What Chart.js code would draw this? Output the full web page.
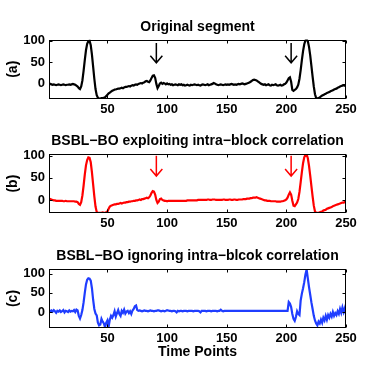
<!DOCTYPE html>
<html><head><meta charset="utf-8">
<script src="https://cdn.jsdelivr.net/npm/chart.js@4"></script>
<style>
html,body{margin:0;padding:0;background:#fff;width:382px;height:382px;overflow:hidden}
.p{position:absolute;left:0;width:382px}
</style></head><body>
<div class="p" style="top:0;height:120px"><canvas id="ca"></canvas></div>
<div class="p" style="top:120px;height:115px"><canvas id="cb"></canvas></div>
<div class="p" style="top:235px;height:147px"><canvas id="cc"></canvas></div>
<script>
const xTicks = [50, 100, 150, 200, 250];
const yTicks = [0, 50, 100];
const titles = ['Original segment', 'BSBL\u2212BO exploiting intra\u2212block correlation', 'BSBL\u2212BO ignoring intra\u2212blcok correlation'];
const panelLabels = ['(a)', '(b)', '(c)'];
const xLabel = 'Time Points';

const original = [
 1,0,-1,-2,-1,-2,-3,-2,-1,-2, -3,-2,-1,-2,-3,-2,-2,-1,-2,-1, 0,-1,-2,-4,
 -6,-10,-12,-6,8,30,55,78,93,99,100,90,68,40,12,-12,-26,-32,-34,-34,-33,-33,-32,-31,-28,-25,
 -22,-20,-18,-16,-15,-13,-13,-12,-11,-11, -10,-9,-10,-8,-7,-7,-6,-5,-6,-4,
 -3,-4,-2,-1,-2,0,1,2,1,3, 4,6,7,5,4,8,14,19,20,14, 0,-10,-5,1,3,0,2,1,-1,1,
 -1,0,-2,-1,-3,-2,-1,-2,-3,-1, -2,-1,-3,-2,-4,-3,-2,-3,-4,-2, -3,-2,-1,-2,-3,-2,-3,-4,-2,-1,
 -2,-3,-2,-1,-3,-2,-1,0,2,1, -1,-2,-3,-2,-1,-2,-3,-2,-1,-2,
 -1,-2,-1,0,-1,-2,-1,-2,-1,0, -1,0,1,0,-1,0,1,2,3,5, 7,9,10,9,8,6,4,2,0,-1,
 -2,-1,-3,-2,-1,-3,-4,-2,-3,-2, -1,-3,-4,-3,-2,-4,-3,-1,0,3,
 8,13,15,5,-14,-16,-14,-12,-8,-2, 12,32,55,76,92,101,103,99,86,66,
 42,17,-6,-24,-33,-34,-33,-31,-29,-27, -26,-24,-23,-21,-20,-19,-17,-16,-15,-13,
 -12,-11,-9,-8,-6,-5,-4,-3,-4,-5
];
const exploiting = [
 3,2,1,0,-1,-1,-2,-2,-2,-2, -2,-2,-3,-3,-2,-3,-3,-3,-3,-3, -3,-3,-4,-4,
 -5,-9,-11,-5,10,32,57,78,90,96,95,85,62,35,8,-15,-27,-29,-29,-29,-29,-28,-29,-29,-28,-26,
 -20,-15,-13,-12,-11,-10,-10,-9,-9,-8, -7,-8,-7,-6,-6,-5,-5,-4,-4,-3,
 -3,-2,-2,-1,-1,0,1,0,2,2, 3,4,5,4,6,10,16,20,19,12, 0,-7,-4,2,3,0,-1,-2,-2,-3,
 -2,-2,-2,-2,-2,-2,-2,-2,-2,-2, -2,-2,-2,-2,-2,-2,-1,-1,-1,-1, -1,-1,-1,-1,-1,0,0,0,0,0,
 0,0,0,1,1,0,0,1,1,1, 0,0,0,0,0,0,1,1,0,0,
 0,1,1,0,0,1,1,0,0,1, 1,1,1,2,2,2,3,3,3,4, 4,5,5,5,6,5,4,3,2,1,
 0,-1,-1,-2,-2,-2,-3,-3,-3,-3, -3,-4,-4,-4,-4,-3,-3,-2,-1,1,
 5,12,17,12,-2,-13,-14,-10,-6,2, 18,40,63,83,96,102,103,94,77,55,
 31,8,-13,-26,-29,-29,-29,-28,-27,-26, -24,-23,-22,-20,-19,-18,-17,-16,-14,-13,
 -12,-11,-10,-9,-8,-7,-6,-6,-5,-4
];
const ignoring = [
 3,2,4,1,5,2,-2,3,1,4, 0,2,5,-1,3,2,0,4,1,3, 2,5,0,6,
 4,-10,-17,-8,5,25,50,72,84,88,87,82,62,32,8,-4,-9,-28,-35,-33,-18,-25,-30,-40,-28,-22,
 -38,-20,-10,-15,-8,2,-12,-3,5,-5, -10,3,-2,6,-4,1,3,-3,2,-5,
 4,8,15,17,5,3,4,3,2,3, 4,3,3,2,3,4,3,3,2,3, 3,4,4,3,2,3,3,2,3,5,
 4,3,3,2,3,3,2,-1,3,2, 3,3,2,3,3,3,2,3,3,3, 3,2,3,3,3,3,2,-1,3,3,
 3,3,2,3,3,3,2,3,3,3, 3,2,3,3,6,3,2,3,3,3,
 3,3,3,3,3,3,3,3,3,3, 3,3,3,3,3,3,3,3,3,3, 3,3,3,3,3,3,3,3,3,3,
 3,3,3,3,3,3,3,3,3,3, 3,3,3,3,3,3,3,3,3,3,
 3,26,22,13,-5,-18,-23,-13,2,-5, -8,30,48,62,78,98,111,88,65,45,
 25,8,-10,-22,-30,-35,-25,-30,-20,-28, -15,-22,-10,-20,-8,-15,-5,-12,0,-10,
 -3,-8,2,-5,8,-2,12,0,10,-5
];
const arrowX = [91, 204];
const arrowA = [95, 49];
const arrowB = [100, 54];

const FAM = "'Liberation Sans', Arial, Helvetica, sans-serif";

const framePlugin = {
  id: 'frame',
  afterDatasetsDraw(chart, args, opts) {
    const ctx = chart.ctx, a = chart.chartArea, xs = chart.scales.x, ys = chart.scales.y;
    ctx.save();
    ctx.strokeStyle = '#000';
    ctx.lineWidth = 1;
    const L = Math.round(a.left) + 0.5, R = Math.round(a.right) - 0.5, T = Math.round(a.top) + 0.5, B = Math.round(a.bottom) - 0.5;
    ctx.strokeRect(L, T, R - L, B - T);
    ctx.beginPath();
    xTicks.forEach(v => {
      const px = Math.round(xs.getPixelForValue(v)) + 0.5;
      ctx.moveTo(px, B); ctx.lineTo(px, B - 3);
      ctx.moveTo(px, T); ctx.lineTo(px, T + 3);
    });
    yTicks.forEach(v => {
      const py = Math.round(ys.getPixelForValue(v)) + 0.5;
      ctx.moveTo(L, py); ctx.lineTo(L + 3, py);
      ctx.moveTo(R, py); ctx.lineTo(R - 3, py);
    });
    ctx.stroke();
    if (opts && opts.arrow) {
      ctx.strokeStyle = opts.color;
      ctx.lineWidth = 1.5;
      ctx.beginPath();
      arrowX.forEach(v => {
        const px = xs.getPixelForValue(v);
        const t = ys.getPixelForValue(opts.arrow[0]);
        const b = ys.getPixelForValue(opts.arrow[1]);
        ctx.moveTo(px, t); ctx.lineTo(px, b);
        ctx.moveTo(px - 6, b - 7); ctx.lineTo(px, b); ctx.lineTo(px + 6, b - 7);
      });
      ctx.stroke();
    }
    ctx.restore();
  }
};

function makeChart(id, series, color, title, label, yMin, yMax, tPad, xHeight, xTitle, arrow) {
  const xScale = {
    type: 'linear', min: 1, max: 250,
    afterBuildTicks: s => { s.ticks = xTicks.map(v => ({ value: v })); },
    grid: { display: false, drawTicks: false },
    border: { display: false },
    ticks: { font: { family: FAM, size: 13, weight: 'bold' }, color: '#000', padding: 3, maxRotation: 0, autoSkip: false },
    afterFit: s => { s.height = xHeight; }
  };
  if (xTitle) {
    xScale.title = { display: true, text: xTitle, color: '#000', font: { family: FAM, size: 14, weight: 'bold' }, padding: { top: 0, bottom: 21 } };
  }
  return new Chart(document.getElementById(id), {
    type: 'line',
    data: { datasets: [{ data: series.map((v, i) => ({ x: i + 1, y: v })), borderColor: color, borderWidth: 2.2, pointRadius: 0, tension: 0, fill: false }] },
    options: {
      responsive: true, maintainAspectRatio: false, animation: false,
      layout: { padding: { left: 0, right: 36, top: 0, bottom: 0 } },
      plugins: {
        legend: { display: false }, tooltip: { enabled: false },
        title: { display: true, text: title, fullSize: false, color: '#000', font: { family: FAM, size: 14, weight: 'bold' }, padding: tPad },
        frame: { arrow: arrow, color: color }
      },
      scales: {
        x: xScale,
        y: {
          min: yMin, max: yMax,
          afterBuildTicks: s => { s.ticks = yTicks.map(v => ({ value: v })); },
          grid: { display: false, drawTicks: false },
          border: { display: false },
          ticks: { font: { family: FAM, size: 13, weight: 'bold' }, color: '#000', padding: 4 },
          title: { display: true, text: label, color: '#000', font: { family: FAM, size: 14, weight: 'bold' }, padding: { top: 5, bottom: 0 } },
          afterFit: s => { s.width = 49; }
        }
      }
    },
    plugins: [framePlugin]
  });
}

makeChart('ca', original, '#000000', titles[0], panelLabels[0], -35, 103, { top: 18.6, bottom: 4.1 }, 21, null, arrowA);
makeChart('cb', exploiting, '#ff0000', titles[1], panelLabels[1], -29.5, 103, { top: 13.1, bottom: 4.4 }, 22, null, arrowB);
makeChart('cc', ignoring, '#1f3dff', titles[2], panelLabels[2], -41, 111.5, { top: 12.4, bottom: 5.1 }, 54.3, xLabel, null);
</script>
</body></html>
